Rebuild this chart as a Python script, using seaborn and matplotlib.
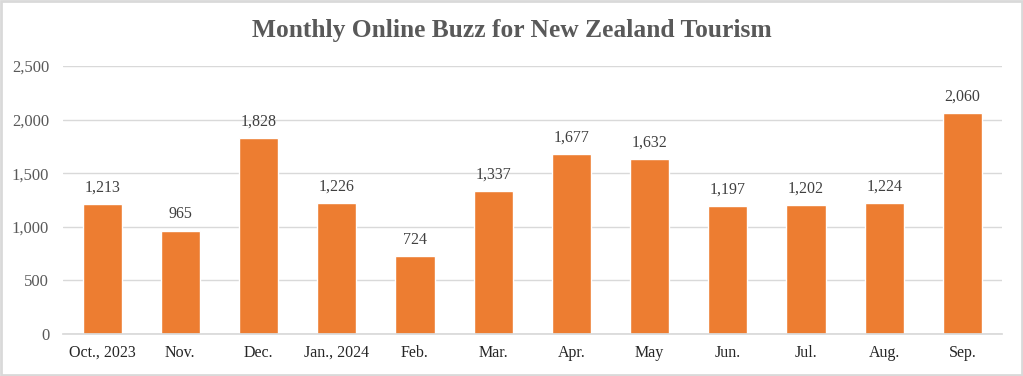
import matplotlib
matplotlib.use("Agg")
import matplotlib.pyplot as plt
import seaborn as sns
import pandas as pd

# data
months = ["Oct., 2023", "Nov.", "Dec.", "Jan., 2024", "Feb.", "Mar.",
          "Apr.", "May", "Jun.", "Jul.", "Aug.", "Sep."]
buzz = [1213, 965, 1828, 1226, 724, 1337, 1677, 1632, 1197, 1202, 1224, 2060]
y_ticks = [0, 500, 1000, 1500, 2000, 2500]

df = pd.DataFrame({"month": months, "buzz": buzz})

sns.set_theme(style="white")
plt.rcParams["font.family"] = ["Liberation Serif", "DejaVu Serif"]

fig = plt.figure(figsize=(10.23, 3.76), dpi=100)
ax = fig.add_axes([0.0616, 0.1117, 0.9174, 0.7128])

sns.barplot(data=df, x="month", y="buzz", color="#ED7D31", width=0.5,
            saturation=1, ax=ax)

ax.set_ylim(0, 2500)
ax.set_yticks(y_ticks)
ax.set_yticklabels([f"{v:,}" for v in y_ticks], color="#595959", fontsize=12)
ax.tick_params(axis="x", labelsize=11.5, labelcolor="#262626", length=0, pad=8)
ax.tick_params(axis="y", length=0, pad=10)
ax.yaxis.grid(True, color="#D9D9D9", linewidth=1)
ax.set_axisbelow(True)
ax.set_xlabel("")
ax.set_ylabel("")
for s in ["top", "right", "left"]:
    ax.spines[s].set_visible(False)
ax.spines["bottom"].set_color("#D9D9D9")

for i, v in enumerate(buzz):
    ax.annotate(f"{v:,}", (i, v), xytext=(0, 6), textcoords="offset points",
                ha="center", va="bottom", fontsize=11.5, color="#404040")

fig.suptitle("Monthly Online Buzz for New Zealand Tourism", y=0.95,
             fontsize=18.4, fontweight="bold", color="#595959")

# light grey frame around the whole chart
fig.patches.append(plt.Rectangle((0.001, 0.002), 0.998, 0.996, transform=fig.transFigure,
                                 fill=False, edgecolor="#D9D9D9", linewidth=2))

fig.savefig("out.png", dpi=100)
